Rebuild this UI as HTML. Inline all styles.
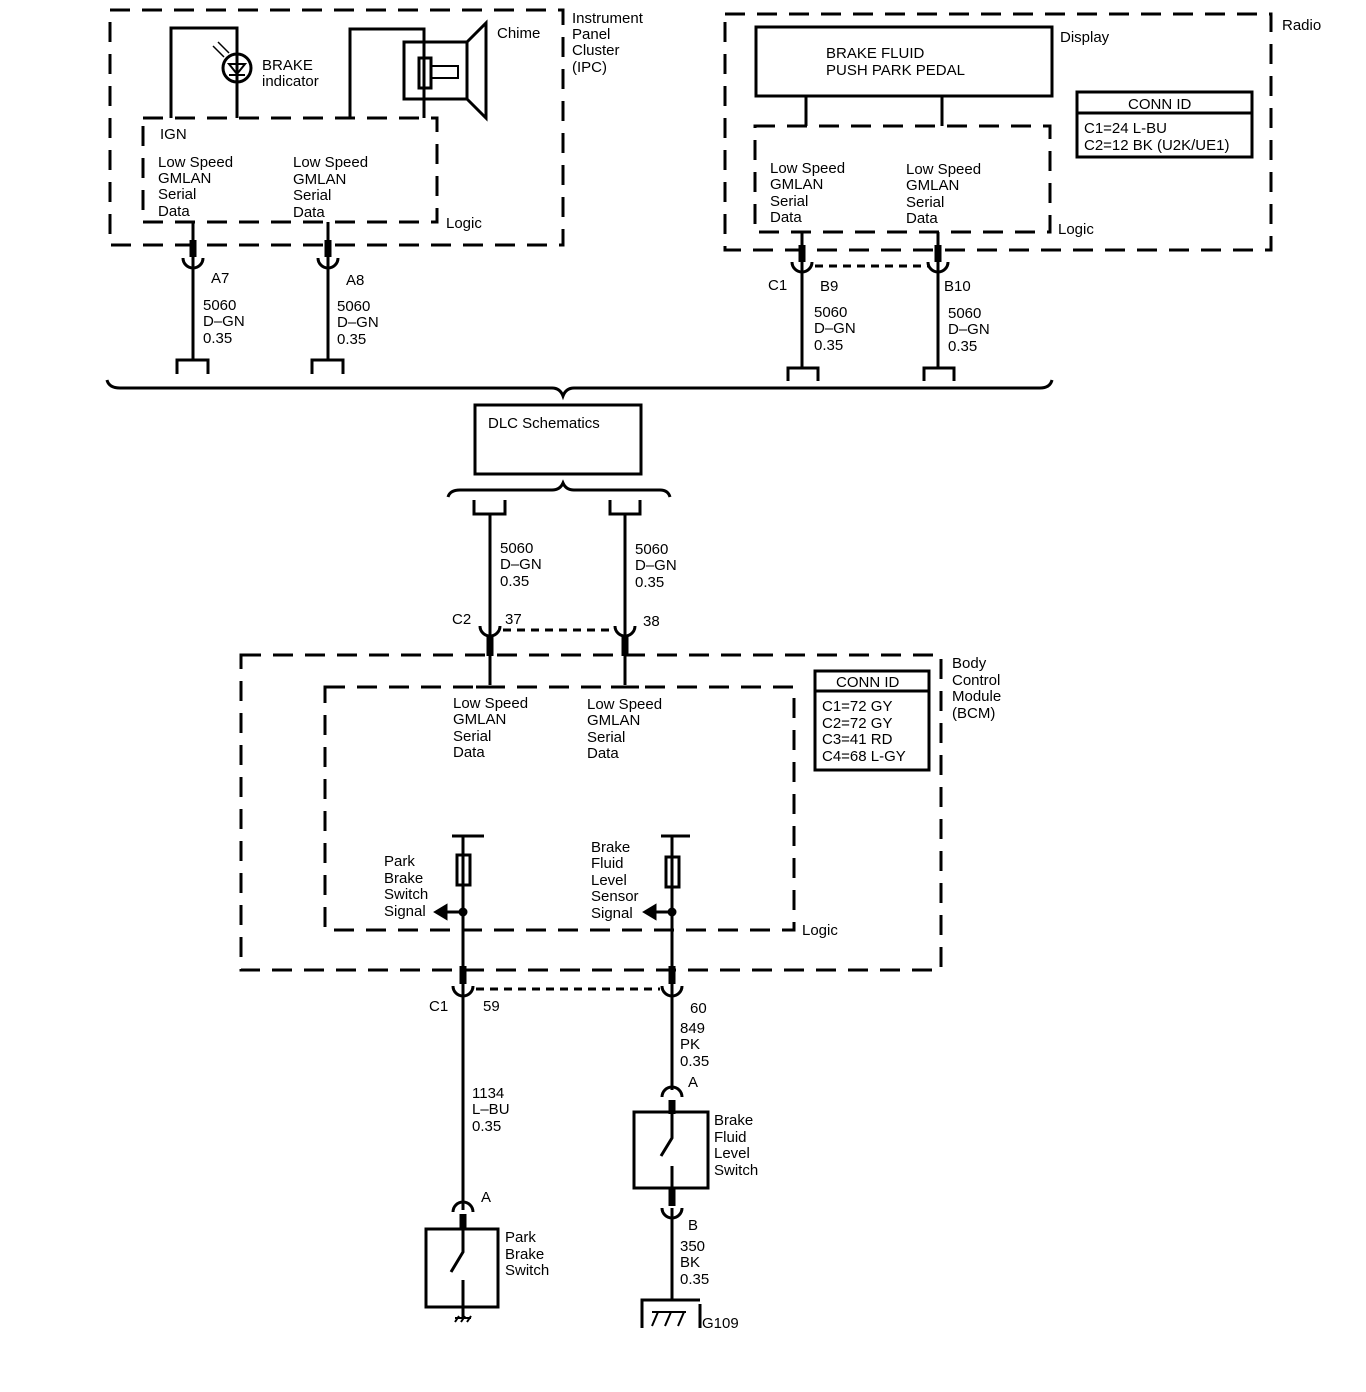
<!DOCTYPE html>
<html><head><meta charset="utf-8"><style>
html,body{margin:0;padding:0;background:#fff;}
svg{display:block;}
text{font-family:"Liberation Sans",Arial,sans-serif;font-size:15px;fill:#000;}
</style></head><body>
<svg width="1366" height="1392" viewBox="0 0 1366 1392" xmlns="http://www.w3.org/2000/svg">
<g fill="none" stroke="#000" stroke-width="3">
<!-- IPC outer -->
<path d="M110 10 H563 V245 H110 Z" stroke-dasharray="20,12"/>
<!-- IPC logic -->
<path d="M143 118 H437 V222 H143 Z" stroke-dasharray="20,12"/>
<!-- brake indicator -->
<path d="M171 118 V28 H237 V118"/>
<circle cx="237" cy="68" r="14"/>
<path d="M229 64 H245 L237 74 Z M229 75 H245" stroke-width="2"/>
<path d="M213 46 L224 57 M218 42 L229 53" stroke-width="1.5"/>
<!-- chime -->
<path d="M350 118 V29 H424 V118"/>
<rect x="404" y="42" width="63" height="57"/>
<rect x="419" y="58" width="12" height="30"/>
<path d="M431 66 H458 V78 H431" stroke-width="2"/>
<path d="M467 42 L486 23 V118 L467 99"/>
<!-- IPC pins -->
<path d="M193 222 V360 M328 222 V360"/>
<path d="M193 240 V257 M328 240 V257" stroke-width="7"/>
<path d="M183 258 A10 10 0 0 0 203 258 M318 258 A10 10 0 0 0 338 258"/>
<path d="M177 374 V360 H208 V374 M312 374 V360 H343 V374"/>
<!-- Radio -->
<path d="M725 14 H1271 V250 H725 Z" stroke-dasharray="20,12"/>
<rect x="756" y="27" width="296" height="69"/>
<path d="M806 96 V126 M942 96 V126"/>
<path d="M755 126 H1050 V232 H755 Z" stroke-dasharray="20,12"/>
<rect x="1077" y="92" width="175" height="65"/>
<path d="M1077 113 H1252"/>
<path d="M802 232 V368 M938 232 V368"/>
<path d="M802 245 V262 M938 245 V262" stroke-width="7"/>
<path d="M792 262 A10 10 0 0 0 812 262 M928 262 A10 10 0 0 0 948 262"/>
<path d="M815 266 H928" stroke-dasharray="8,6"/>
<path d="M788 381 V368 H818 V381 M924 381 V368 H954 V381"/>
<!-- big brace -->
<path d="M107 380 Q109 388 120 388 H552 Q560 388 563 396 Q566 388 574 388 H1040 Q1050 388 1052 380"/>
<!-- DLC -->
<rect x="475" y="405" width="166" height="69"/>
<path d="M448 497 Q450 490 460 490 H552 Q560 490 563 483 Q566 490 574 490 H660 Q668 490 670 497"/>
<path d="M474 500 V514 H505 V500 M610 500 V514 H640 V500"/>
<path d="M490 514 V685 M625 514 V685"/>
<path d="M480 626 A10 10 0 0 0 500 626 M615 626 A10 10 0 0 0 635 626"/>
<path d="M490 636 V656 M625 636 V656" stroke-width="7"/>
<path d="M503 630 H613" stroke-dasharray="8,6"/>
<!-- BCM -->
<path d="M241 655 H941 V970 H241 Z" stroke-dasharray="20,12"/>
<path d="M325 687 H794 V930 H325 Z" stroke-dasharray="20,12"/>
<path d="M476 687 H504 M611 687 H639"/>
<rect x="815" y="671" width="114" height="99"/>
<path d="M815 691 H929"/>
<!-- signal circuits -->
<path d="M452 836 H484 M661 836 H690"/>
<path d="M463 836 V1210 M672 836 V1090"/>
<rect x="457" y="855" width="13" height="30"/>
<rect x="666" y="857" width="13" height="30"/>
<path d="M463 912 H444 M672 912 H653"/>
<path d="M436 912 L446 906 V918 Z M645 912 L655 906 V918 Z" fill="#000"/>
<circle cx="463" cy="912" r="3" fill="#000"/>
<circle cx="672" cy="912" r="3" fill="#000"/>
<path d="M463 966 V984 M672 966 V984" stroke-width="7"/>
<path d="M453 986 A10 10 0 0 0 473 986 M662 986 A10 10 0 0 0 682 986"/>
<path d="M476 989 H660" stroke-dasharray="8,6"/>
<!-- right chain -->
<path d="M662 1097 A10 10 0 0 1 682 1097"/>
<path d="M672 1100 V1114" stroke-width="7"/>
<rect x="634" y="1112" width="74" height="76"/>
<path d="M672 1114 V1138 L661 1156 M672 1166 V1188"/>
<path d="M672 1188 V1206" stroke-width="7"/>
<path d="M662 1208 A10 10 0 0 0 682 1208"/>
<path d="M672 1208 V1300"/>
<path d="M642 1328 V1300 H700 M700 1304 V1328"/>
<path d="M652 1326 L658 1312 M665 1326 L671 1312 M678 1326 L684 1312 M652 1312 H686" stroke-width="2"/>
<!-- left chain -->
<path d="M453 1212 A10 10 0 0 1 473 1212"/>
<path d="M463 1214 V1230" stroke-width="7"/>
<rect x="426" y="1229" width="72" height="78"/>
<path d="M463 1230 V1252 L451 1272 M463 1280 V1318"/>
<path d="M455 1318 H471 M455 1322 L459 1316 M461 1322 L465 1316 M467 1322 L471 1316" stroke-width="2"/>
</g>
<!-- IPC text -->
<text x="497" y="38">Chime</text>
<text x="572" y="23">Instrument</text>
<text x="572" y="39">Panel</text>
<text x="572" y="55">Cluster</text>
<text x="572" y="72">(IPC)</text>
<text x="262" y="70">BRAKE</text>
<text x="262" y="86">indicator</text>
<text x="160" y="139">IGN</text>
<text x="158" y="167">Low Speed</text><text x="158" y="183">GMLAN</text><text x="158" y="199">Serial</text><text x="158" y="216">Data</text>
<text x="293" y="167">Low Speed</text><text x="293" y="184">GMLAN</text><text x="293" y="200">Serial</text><text x="293" y="217">Data</text>
<text x="446" y="228">Logic</text>
<text x="211" y="283">A7</text><text x="346" y="285">A8</text>
<text x="203" y="310">5060</text><text x="203" y="326">D–GN</text><text x="203" y="343">0.35</text>
<text x="337" y="311">5060</text><text x="337" y="327">D–GN</text><text x="337" y="344">0.35</text>
<!-- Radio text -->
<text x="826" y="58">BRAKE FLUID</text>
<text x="826" y="75">PUSH PARK PEDAL</text>
<text x="1060" y="42">Display</text>
<text x="1282" y="30">Radio</text>
<text x="1128" y="109">CONN ID</text>
<text x="1084" y="133">C1=24 L-BU</text>
<text x="1084" y="150">C2=12 BK (U2K/UE1)</text>
<text x="770" y="173">Low Speed</text><text x="770" y="189">GMLAN</text><text x="770" y="206">Serial</text><text x="770" y="222">Data</text>
<text x="906" y="174">Low Speed</text><text x="906" y="190">GMLAN</text><text x="906" y="207">Serial</text><text x="906" y="223">Data</text>
<text x="1058" y="234">Logic</text>
<text x="768" y="290">C1</text><text x="820" y="291">B9</text><text x="944" y="291">B10</text>
<text x="814" y="317">5060</text><text x="814" y="333">D–GN</text><text x="814" y="350">0.35</text>
<text x="948" y="318">5060</text><text x="948" y="334">D–GN</text><text x="948" y="351">0.35</text>
<!-- DLC -->
<text x="488" y="428">DLC Schematics</text>
<text x="500" y="553">5060</text><text x="500" y="569">D–GN</text><text x="500" y="586">0.35</text>
<text x="635" y="554">5060</text><text x="635" y="570">D–GN</text><text x="635" y="587">0.35</text>
<text x="452" y="624">C2</text><text x="505" y="624">37</text><text x="643" y="626">38</text>
<!-- BCM -->
<text x="952" y="668">Body</text><text x="952" y="685">Control</text><text x="952" y="701">Module</text><text x="952" y="718">(BCM)</text>
<text x="836" y="687">CONN ID</text>
<text x="822" y="711">C1=72 GY</text><text x="822" y="728">C2=72 GY</text><text x="822" y="744">C3=41 RD</text><text x="822" y="761">C4=68 L-GY</text>
<text x="453" y="708">Low Speed</text><text x="453" y="724">GMLAN</text><text x="453" y="741">Serial</text><text x="453" y="757">Data</text>
<text x="587" y="709">Low Speed</text><text x="587" y="725">GMLAN</text><text x="587" y="742">Serial</text><text x="587" y="758">Data</text>
<text x="384" y="866">Park</text><text x="384" y="883">Brake</text><text x="384" y="899">Switch</text><text x="384" y="916">Signal</text>
<text x="591" y="852">Brake</text><text x="591" y="868">Fluid</text><text x="591" y="885">Level</text><text x="591" y="901">Sensor</text><text x="591" y="918">Signal</text>
<text x="802" y="935">Logic</text>
<text x="429" y="1011">C1</text><text x="483" y="1011">59</text><text x="690" y="1013">60</text>
<text x="680" y="1033">849</text><text x="680" y="1049">PK</text><text x="680" y="1066">0.35</text>
<text x="688" y="1087">A</text>
<text x="714" y="1125">Brake</text><text x="714" y="1142">Fluid</text><text x="714" y="1158">Level</text><text x="714" y="1175">Switch</text>
<text x="472" y="1098">1134</text><text x="472" y="1114">L–BU</text><text x="472" y="1131">0.35</text>
<text x="481" y="1202">A</text>
<text x="505" y="1242">Park</text><text x="505" y="1259">Brake</text><text x="505" y="1275">Switch</text>
<text x="688" y="1230">B</text>
<text x="680" y="1251">350</text><text x="680" y="1267">BK</text><text x="680" y="1284">0.35</text>
<text x="702" y="1328">G109</text>
</svg>
</body></html>
